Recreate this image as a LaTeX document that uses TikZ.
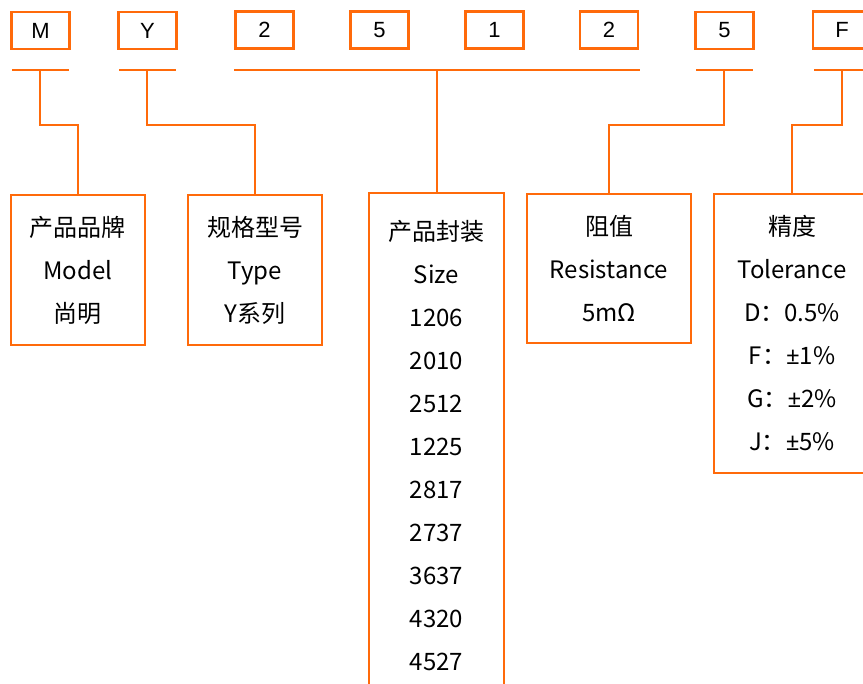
\documentclass[tikz,border=0pt]{standalone}
\usepackage{fontspec}
\setmainfont{Noto Sans CJK SC}
\newfontfamily\arialfont{Liberation Sans}
\newfontfamily\plainfont{Noto Sans}
\newcommand{\plusminus}{{\plainfont ±}}
\usepackage{tikz}
\usetikzlibrary{positioning}
\definecolor{codeorange}{HTML}{FF6A0A}
\tikzstyle{letter} = [rectangle, draw=codeorange, line width=2.5pt,
                      minimum width=58pt, minimum height=37pt, inner sep=0pt,
                      font=\arialfont\fontsize{22}{24}\selectfont]
\tikzstyle{field} = [rectangle, draw=codeorange, line width=1.8pt,
                     align=center, inner sep=0pt,
                     font=\fontsize{24}{43}\selectfont]
\tikzstyle{link} = [draw=codeorange, line width=1.6pt]

\begin{document}
\begin{tikzpicture}[x=1pt,y=-1pt]
\useasboundingbox (0,0) rectangle (863,684);
\clip (0,0) rectangle (863,684);
% code letters
\node[letter] at (40.5,30.5) (cM){M};
\node[letter] at (147.5,30.5) (cY){Y};
\node[letter] at (264.5,30) (cTwoA){2};
\node[letter] at (379.5,30) (cFiveA){5};
\node[letter] at (494.5,30) (cOne){1};
\node[letter] at (609,30) (cTwoB){2};
\node[letter] at (724.5,30.5) (cFiveB){5};
\node[letter] at (842,30) (cF){F};

% underlines
\draw[link] (12,70) -- (69,70);
\draw[link] (119,70) -- (176,70);
\draw[link] (234,70) -- (640,70);
\draw[link] (696,70) -- (753,70);
\draw[link] (814,70) -- (863,70);

% fields
\node[field, minimum width=134pt, minimum height=150pt] at (78,270) (model){产品品牌\\Model\\尚明};
\node[field, minimum width=134pt, minimum height=150pt] at (255,270) (type){规格型号\\Type\\Y系列};
\node[field, minimum width=135pt, minimum height=506pt] at (436.5,446) (size){产品封装\\Size\\1206\\2010\\2512\\1225\\2817\\2737\\3637\\4320\\4527};
\node[field, minimum width=164pt, minimum height=149pt] at (609,268.5) (res){阻值\\Resistance\\5mΩ};
\node[field, minimum width=156pt, minimum height=279pt] at (792,333.5) (tol){精度\\Tolerance\\D：0.5\%\\F：\plusminus1\%\\G：\plusminus2\%\\J：\plusminus5\%};

% connectors
\coordinate (tM) at (40,70);
\coordinate (tY) at (147,70);
\coordinate (tSize) at (437,70);
\coordinate (tRes) at (724,70);
\coordinate (tTol) at (842,70);
\draw[link] (tM) -- ++(0,55) -| (model.north);
\draw[link] (tY) -- ++(0,55) -| (type.north);
\draw[link] (tSize) -- (tSize |- size.north);
\draw[link] (tRes) -- ++(0,55) -| (res.north);
\draw[link] (tTol) -- ++(0,55) -| (tol.north);
\end{tikzpicture}
\end{document}
